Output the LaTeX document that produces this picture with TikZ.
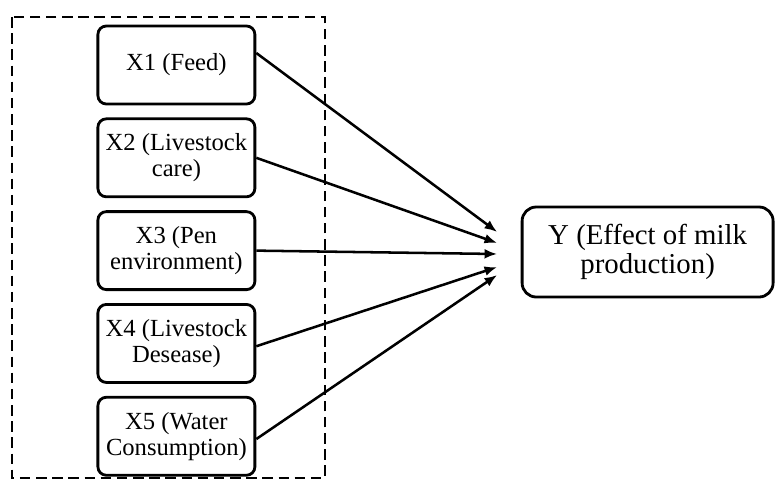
\documentclass[tikz,border=0pt]{standalone}
\usepackage{fontspec}
\setmainfont{Liberation Serif}
\usetikzlibrary{positioning,arrows.meta}

\tikzset{
  varbox/.style={draw, line width=2pt, rounded corners=6pt, align=center,
    minimum width=3.925cm, minimum height=1.95cm, inner sep=1pt,
    font=\fontsize{17.5}{18.5}\selectfont},
  outbox/.style={varbox, rounded corners=10pt, minimum width=6.275cm, minimum height=2.25cm,
    font=\fontsize{20.5}{21}\selectfont},
  effect/.style={-{Latex[length=9pt,width=7pt]}, line width=1.8pt},
}

\begin{document}
\begin{tikzpicture}
\useasboundingbox (0,0) rectangle (19.4,-12);
% group of independent variables
\draw[line width=1.8pt, dash pattern=on 7.5pt off 4pt] (0.3,-0.425) rectangle (8.125,-11.95);

\node[varbox] (x1) at (4.41,-1.625) {X1 (Feed)};
\node[varbox, below=0.3cm of x1] (x2) {X2 (Livestock\\care)};
\node[varbox, below=0.3cm of x2] (x3) {X3 (Pen\\environment)};
\node[varbox, below=0.3cm of x3] (x4) {X4 (Livestock\\Desease)};
\node[varbox, below=0.3cm of x4] (x5) {X5 (Water\\Consumption)};

% dependent variable
\node[outbox] (y) at (16.19,-6.3) {Y (Effect of milk\\production)};

% arrow tips
\coordinate (t1) at (12.43,-5.8);
\coordinate (t2) at (12.43,-6.075);
\coordinate (t3) at (12.43,-6.35);
\coordinate (t4) at (12.43,-6.675);
\coordinate (t5) at (12.43,-6.875);

\draw[effect] ([yshift=0.3cm]x1.east) -- (t1);
\draw[effect] (x2.east) -- (t2);
\draw[effect] (x3.east) -- (t3);
\draw[effect] ([yshift=-0.07cm]x4.east) -- (t4);
\draw[effect] ([yshift=-0.07cm]x5.east) -- (t5);
\end{tikzpicture}
\end{document}
